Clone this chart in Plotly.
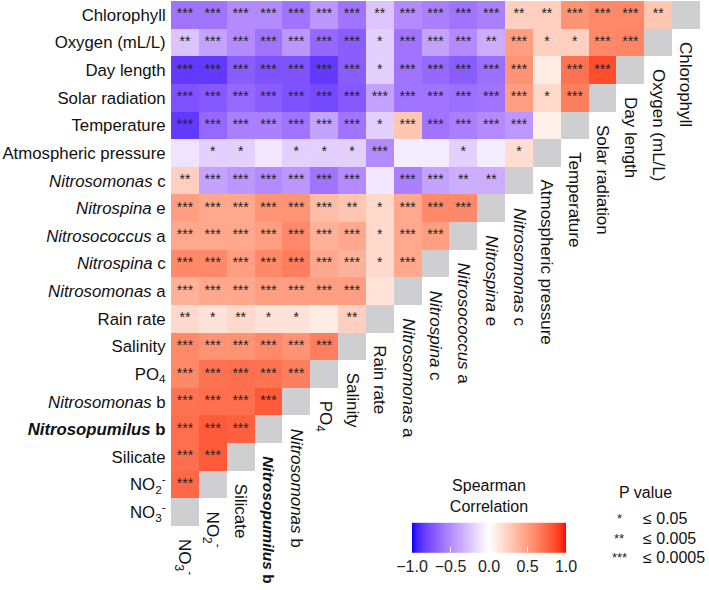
import plotly.graph_objects as go
import numpy as np

# ---------------- data ----------------
row_labels = [
    "Chlorophyll", "Oxygen (mL/L)", "Day length", "Solar radiation", "Temperature",
    "Atmospheric pressure", "<i>Nitrosomonas</i> c", "<i>Nitrospina</i> e",
    "<i>Nitrosococcus</i> a", "<i>Nitrospina</i> c", "<i>Nitrosomonas</i> a",
    "Rain rate", "Salinity", "PO<sub>4</sub>", "<i>Nitrosomonas</i> b",
    "<b><i>Nitrosopumilus</i> b</b>", "Silicate", "NO<sub>2</sub><sup>-</sup>",
    "NO<sub>3</sub><sup>-</sup>",
]
# columns are the same variables in reverse order
col_labels = row_labels[::-1]

# Spearman rho (lower triangle, row by row, columns left->right)
rho_chlorophyll = [-0.6, -0.6, -0.5, -0.5, -0.6, -0.45, -0.6, -0.25, -0.5, -0.55, -0.6, -0.55, 0.25, 0.25, 0.55, 0.6, 0.6, 0.3]
rho_oxygen = [-0.25, -0.4, -0.5, -0.6, -0.45, -0.65, -0.7, -0.2, -0.6, -0.4, -0.5, -0.35, 0.5, 0.25, 0.25, 0.6, 0.62]
rho_daylength = [-0.85, -0.85, -0.7, -0.75, -0.75, -0.85, -0.7, -0.2, -0.6, -0.65, -0.7, -0.62, 0.55, 0.1, 0.7, 0.85]
rho_solar = [-0.75, -0.72, -0.65, -0.7, -0.75, -0.78, -0.72, -0.4, -0.6, -0.6, -0.62, -0.6, 0.5, 0.2, 0.65]
rho_temperature = [-0.85, -0.65, -0.55, -0.55, -0.6, -0.4, -0.6, -0.2, 0.3, -0.6, -0.55, -0.5, -0.45, 0.08]
rho_atmospheric = [-0.12, -0.2, -0.2, -0.1, -0.2, -0.2, -0.2, -0.5, -0.08, -0.08, -0.2, -0.08, 0.18]
rho_nitrosomonas_c = [0.25, -0.4, -0.45, -0.5, -0.45, -0.6, -0.5, -0.1, -0.55, -0.4, -0.35, -0.35]
rho_nitrospina_e = [0.5, 0.45, 0.45, 0.55, 0.55, 0.35, 0.3, 0.2, 0.45, 0.6, 0.6]
rho_nitrosococcus_a = [0.45, 0.45, 0.45, 0.5, 0.6, 0.4, 0.45, 0.2, 0.45, 0.5]
rho_nitrospina_c = [0.6, 0.6, 0.5, 0.6, 0.65, 0.45, 0.4, 0.2, 0.45]
rho_nitrosomonas_a = [0.4, 0.45, 0.45, 0.5, 0.5, 0.5, 0.5, 0.15]
rho_rain = [0.2, 0.15, 0.2, 0.15, 0.15, 0.1, 0.25]
rho_salinity = [0.6, 0.55, 0.55, 0.6, 0.55, 0.65]
rho_po4 = [0.6, 0.7, 0.72, 0.7, 0.65]
rho_nitrosomonas_b = [0.7, 0.72, 0.72, 0.8]
rho_nitrosopumilus_b = [0.72, 0.8, 0.78]
rho_silicate = [0.72, 0.8]
rho_no2 = [0.75]

# significance level (number of stars)
sig_chlorophyll = [3, 3, 3, 3, 3, 3, 3, 2, 3, 3, 3, 3, 2, 2, 3, 3, 3, 2]
sig_oxygen = [2, 3, 3, 3, 3, 3, 3, 1, 3, 3, 3, 2, 3, 1, 1, 3, 3]
sig_daylength = [3, 3, 3, 3, 3, 3, 3, 1, 3, 3, 3, 3, 3, 0, 3, 3]
sig_solar = [3, 3, 3, 3, 3, 3, 3, 3, 3, 3, 3, 3, 3, 1, 3]
sig_temperature = [3, 3, 3, 3, 3, 3, 3, 1, 3, 3, 3, 3, 3, 0]
sig_atmospheric = [0, 1, 1, 0, 1, 1, 1, 3, 0, 0, 1, 0, 1]
sig_nitrosomonas_c = [2, 3, 3, 3, 3, 3, 3, 0, 3, 3, 2, 2]
sig_nitrospina_e = [3, 3, 3, 3, 3, 3, 2, 1, 3, 3, 3]
sig_nitrosococcus_a = [3, 3, 3, 3, 3, 3, 3, 1, 3, 3]
sig_nitrospina_c = [3, 3, 3, 3, 3, 3, 3, 1, 3]
sig_nitrosomonas_a = [3, 3, 3, 3, 3, 3, 3, 0]
sig_rain = [2, 1, 2, 1, 1, 0, 2]
sig_salinity = [3, 3, 3, 3, 3, 3]
sig_po4 = [3, 3, 3, 3, 3]
sig_nitrosomonas_b = [3, 3, 3, 3]
sig_nitrosopumilus_b = [3, 3, 3]
sig_silicate = [3, 3]
sig_no2 = [3]

rho_rows = [rho_chlorophyll, rho_oxygen, rho_daylength, rho_solar, rho_temperature,
            rho_atmospheric, rho_nitrosomonas_c, rho_nitrospina_e, rho_nitrosococcus_a,
            rho_nitrospina_c, rho_nitrosomonas_a, rho_rain, rho_salinity, rho_po4,
            rho_nitrosomonas_b, rho_nitrosopumilus_b, rho_silicate, rho_no2, []]
sig_rows = [sig_chlorophyll, sig_oxygen, sig_daylength, sig_solar, sig_temperature,
            sig_atmospheric, sig_nitrosomonas_c, sig_nitrospina_e, sig_nitrosococcus_a,
            sig_nitrospina_c, sig_nitrosomonas_a, sig_rain, sig_salinity, sig_po4,
            sig_nitrosomonas_b, sig_nitrosopumilus_b, sig_silicate, sig_no2, []]

p_levels = ["≤ 0.05", "≤ 0.005", "≤ 0.0005"]
cbar_ticks = [-1.0, -0.5, 0.0, 0.5, 1.0]

# ---------------- colour scale (Lab interpolation blue-white-red) ----------------
def _to_lin(c):
    c = c / 255.0
    return np.where(c <= 0.04045, c / 12.92, ((c + 0.055) / 1.055) ** 2.4)

def _from_lin(c):
    c = np.where(c <= 0.0031308, 12.92 * c, 1.055 * np.power(np.clip(c, 0, None), 1 / 2.4) - 0.055)
    return np.clip(np.round(c * 255), 0, 255)

M = np.array([[0.4124, 0.3576, 0.1805], [0.2126, 0.7152, 0.0722], [0.0193, 0.1192, 0.9505]])
Minv = np.linalg.inv(M)
WHITE = np.array([0.95047, 1.0, 1.08883])

def rgb2lab(rgb):
    xyz = M @ _to_lin(np.array(rgb, float)) / WHITE
    f = np.where(xyz > 0.008856, np.cbrt(xyz), 7.787 * xyz + 16 / 116)
    return np.array([116 * f[1] - 16, 500 * (f[0] - f[1]), 200 * (f[1] - f[2])])

def lab2rgb(lab):
    fy = (lab[0] + 16) / 116
    fx = fy + lab[1] / 500
    fz = fy - lab[2] / 200
    f = np.array([fx, fy, fz])
    xyz = np.where(f ** 3 > 0.008856, f ** 3, (f - 16 / 116) / 7.787) * WHITE
    return _from_lin(Minv @ xyz)

lab_b, lab_w, lab_r = rgb2lab([0, 0, 255]), rgb2lab([255, 255, 255]), rgb2lab([255, 0, 0])
colorscale = []
for t in np.linspace(0, 1, 41):
    if t <= 0.5:
        s = t / 0.5
        lab = lab_b + (lab_w - lab_b) * s
    else:
        s = (t - 0.5) / 0.5
        lab = lab_w + (lab_r - lab_w) * s
    r, g, b = lab2rgb(lab)
    colorscale.append([float(t), f"rgb({int(r)},{int(g)},{int(b)})"])

# ---------------- build matrices ----------------
n = len(row_labels)
z = [[None] * n for _ in range(n)]
diag = [[None] * n for _ in range(n)]
sx, sy, st = [], [], []
for r in range(n):
    for c, v in enumerate(rho_rows[r]):
        z[r][c] = v
        k = sig_rows[r][c]
        if k > 0:
            sx.append(c)
            sy.append(r)
            st.append("*" * k)
    diag[r][n - 1 - r] = 1

FONT = "Liberation Sans, Arial, sans-serif"

fig = go.Figure()
fig.add_trace(go.Heatmap(
    z=z, x=list(range(n)), y=list(range(n)), zmin=-1, zmax=1,
    colorscale=colorscale, hoverongaps=False,
    colorbar=dict(
        orientation="h", thickness=30, thicknessmode="pixels",
        len=154, lenmode="pixels", x=(489 - 171) / 529, xanchor="center",
        y=(526 - 485) / 525, yanchor="top", xpad=0, ypad=0, outlinewidth=0,
        tickvals=cbar_ticks, tickformat=".1f", ticks="inside", ticklen=5,
        tickcolor="white", tickfont=dict(size=16, color="#222", family=FONT),
        title=dict(text="Spearman<br>Correlation", side="top",
                   font=dict(size=16, color="#111", family=FONT)),
    ),
))
fig.add_trace(go.Heatmap(
    z=diag, x=list(range(n)), y=list(range(n)), zmin=0, zmax=1,
    colorscale=[[0, "#cfcfd1"], [1, "#cfcfd1"]], showscale=False, hoverinfo="skip",
))
fig.add_trace(go.Scatter(
    x=sx, y=sy, text=st, mode="text", textposition="middle center",
    textfont=dict(size=14, color="#222", family=FONT), hoverinfo="skip", showlegend=False,
))

annotations = []
for c in range(n):
    lab = col_labels[c]
    size = 15.5 if lab.startswith("<b>") else 17
    annotations.append(dict(
        x=c, y=(n - 1 - c) + 0.5, xref="x", yref="y", text=lab,
        textangle=90, showarrow=False, xanchor="center", yanchor="top", yshift=-11,
        font=dict(size=size, color="#111", family=FONT),
    ))

def px(xp):
    return (xp - 171) / 529

def py(yp):
    return (526 - yp) / 525

annotations.append(dict(x=px(645), y=py(492), xref="paper", yref="paper", text="P value",
                        showarrow=False, xanchor="center", yanchor="middle",
                        font=dict(size=16, color="#111", family=FONT)))
for i, (lab, yy) in enumerate(zip(p_levels, [518, 538, 557])):
    annotations.append(dict(x=px(619), y=py(yy), xref="paper", yref="paper", text="*" * (i + 1),
                            showarrow=False, xanchor="center", yanchor="middle",
                            font=dict(size=13, color="#222", family=FONT)))
    annotations.append(dict(x=px(641), y=py(yy), xref="paper", yref="paper", text=lab,
                            showarrow=False, xanchor="left", yanchor="middle",
                            font=dict(size=16, color="#111", family=FONT)))

fig.update_layout(
    width=709, height=590, margin=dict(l=171, r=9, t=1, b=64, autoexpand=False),
    paper_bgcolor="white", plot_bgcolor="white", showlegend=False,
    font=dict(family=FONT, size=16, color="#111"),
    annotations=annotations,
)
fig.update_xaxes(range=[-0.5, n - 0.5], showticklabels=False, showgrid=False,
                 zeroline=False, showline=False, ticks="", automargin=False)
fig.update_yaxes(range=[n - 0.5, -0.5], tickvals=list(range(n)), ticktext=row_labels,
                 showgrid=False, zeroline=False, showline=False, ticks="outside", automargin=False,
                 ticklen=1, tickcolor="white", tickfont=dict(size=16.8, color="#111", family=FONT))

fig.write_html("out.html")
